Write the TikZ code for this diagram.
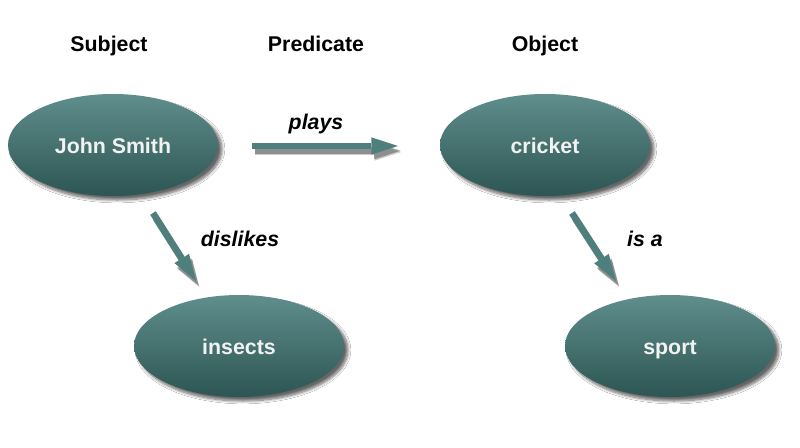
\documentclass[tikz,border=0pt]{standalone}
\usepackage{fontspec}
\setmainfont{Liberation Sans}
\usetikzlibrary{shapes.geometric,arrows.meta,shadows.blur}
\definecolor{etop}{HTML}{5F8E8C}
\definecolor{ebot}{HTML}{2C5553}
\definecolor{arrc}{HTML}{4F7F7D}
\begin{document}
\begin{tikzpicture}[x=0.75pt,y=-0.75pt,
  concept/.style={ellipse, minimum width=157.5pt, minimum height=76.5pt, inner sep=0pt,
    top color=etop, bottom color=ebot, draw=none, text=white!95!black,
    font=\bfseries\fontsize{16}{19}\selectfont, text height=13pt, text depth=1pt,
    blur shadow={shadow xshift=3pt, shadow yshift=-3pt, shadow blur steps=8, shadow opacity=60}},
  header/.style={font=\bfseries\fontsize{16}{19}\selectfont, anchor=base},
  rel/.style={font=\bfseries\itshape\fontsize{16}{19}\selectfont, anchor=base},
  tipshape/.style={-{Triangle[length=20pt,width=13pt,line width=0pt]}},
  link/.style={draw=arrc, line width=5pt, tipshape},
  linkshadow/.style={draw=black, opacity=#1, line width=5pt, tipshape},
  linkshadow/.default=0.3]
\useasboundingbox (0,0) rectangle (800,447);
\fill[white] (0,0) rectangle (800,447);
\node[header] (hs) at (109,51) {Subject};
\node[header] (hp) at (316,51) {Predicate};
\node[header] (ho) at (545,51) {Object};
\node[concept] (john) at (113,145) {John Smith};
\node[concept] (cricket) at (545,145) {cricket};
\node[concept] (insects) at (239,346) {insects};
\node[concept] (sport) at (670,346) {sport};
\coordinate (p1) at (252,146);
\coordinate (p2) at (398,146);
\coordinate (d1) at (153,213);
\coordinate (d2) at (196,281);
\coordinate (i1) at (572,213);
\coordinate (i2) at (616,281);
\foreach \a/\b in {p1/p2,d1/d2,i1/i2}{
  \draw[linkshadow=0.2, transform canvas={xshift=2.5pt,yshift=-4.5pt}] (\a) -- (\b);
  \draw[linkshadow=0.3, transform canvas={xshift=2pt,yshift=-3.5pt}] (\a) -- (\b);
}
\draw[link] (p1) -- (p2);
\draw[link] (d1) -- (d2);
\draw[link] (i1) -- (i2);
\node[rel] (lp) at (316,129) {plays};
\node[rel] (ld) at (240,246) {dislikes};
\node[rel] (li) at (645,246) {is a};
\end{tikzpicture}
\end{document}
